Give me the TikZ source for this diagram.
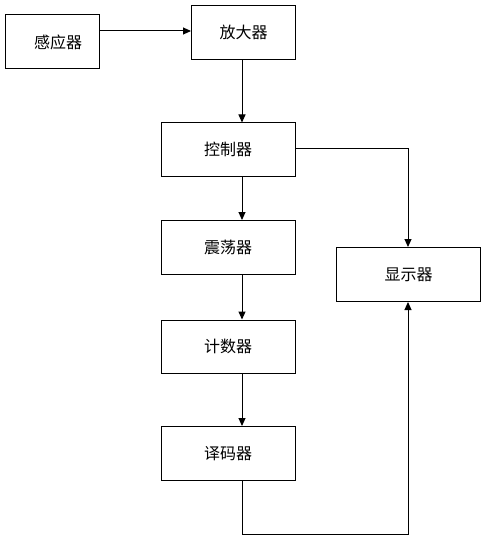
\documentclass[tikz,border=0pt]{standalone}
\usepackage{fontspec}
\newfontfamily\cjk{Noto Sans CJK SC}[Scale=1]
\usetikzlibrary{arrows.meta}
\begin{document}
\begin{tikzpicture}[x=1pt,y=-1pt,
  blk/.style={draw=black,line width=1pt,fill=white,inner sep=0pt,anchor=north west,
    font=\cjk\fontsize{16}{18}\selectfont},
  conn/.style={draw=black,line width=1pt,-{Triangle[length=8pt,width=7pt]}}]
\useasboundingbox (0,0) rectangle (484,540);
\fill[white] (0,0) rectangle (484,540);
\node[blk,minimum width=94pt,minimum height=54pt] (sense) at (4.5,14.5) {\hspace*{12pt}感应器};
\node[blk,minimum width=104pt,minimum height=54pt] (amp) at (191,5) {放大器};
\node[blk,minimum width=134pt,minimum height=53pt] (ctrl) at (160.5,122.5) {控制器};
\node[blk,minimum width=134pt,minimum height=54pt] (osc) at (160.5,220) {震荡器};
\node[blk,minimum width=134pt,minimum height=53pt] (cnt) at (160.5,319.5) {计数器};
\node[blk,minimum width=134pt,minimum height=54pt] (dec) at (160.5,426) {译码器};
\node[blk,minimum width=144pt,minimum height=54pt] (disp) at (336,247) {显示器};
\coordinate (c1) at (408,149);
\coordinate (c2) at (242,534);
\coordinate (c3) at (408,534);
\draw[conn] (sense.east |- 0,31) -- (amp.west |- 0,31);
\draw[conn] (amp.south -| 242,0) -- (ctrl.north -| 242,0);
\draw[conn] (ctrl.south -| 242,0) -- (osc.north -| 242,0);
\draw[conn] (osc.south -| 242,0) -- (cnt.north -| 242,0);
\draw[conn] (cnt.south -| 242,0) -- (dec.north -| 242,0);
\draw[conn] (ctrl.east |- c1) -- (c1) -- (disp.north -| c1);
\draw[conn] (dec.south -| c2) -- (c2) -- (c3) -- (disp.south -| c3);
\end{tikzpicture}
\end{document}
